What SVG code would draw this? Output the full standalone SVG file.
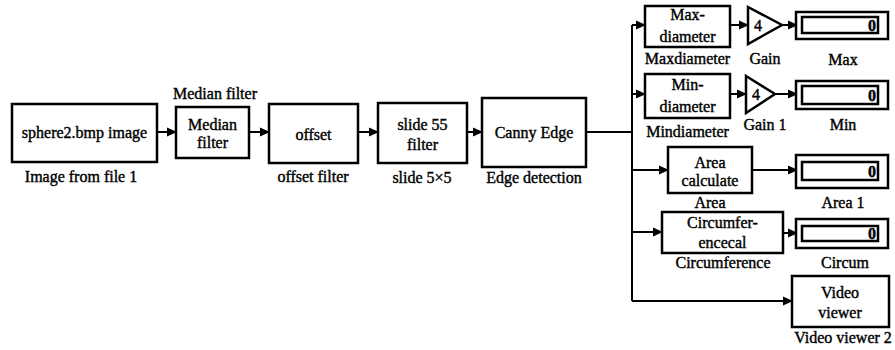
<svg xmlns="http://www.w3.org/2000/svg" width="895" height="350" viewBox="0 0 895 350" font-family="'Liberation Serif', 'Times New Roman', 'DejaVu Serif', serif">
<style>
.box{fill:#fff;stroke:#000;stroke-width:2.5}
.disp{fill:#fff;stroke:#000;stroke-width:2.5}
.ln{fill:none;stroke:#000;stroke-width:2}
text{font-family:'Liberation Serif','Times New Roman','DejaVu Serif',serif;font-size:16px;fill:#000;stroke:#000;stroke-width:0.4;text-anchor:middle}
.num{text-anchor:end;font-weight:bold}
</style>
<defs>
<marker id="ah" markerWidth="10" markerHeight="10" refX="9" refY="5" orient="auto" markerUnits="userSpaceOnUse">
<path d="M0,0.5 L10,5 L0,9.5 Z" fill="#000"/>
</marker>
</defs>
<rect width="895" height="350" fill="#fff"/>
<g id="connectors">
<line class="ln" x1="157" y1="132" x2="176" y2="132" marker-end="url(#ah)"/>
<line class="ln" x1="249" y1="132" x2="269" y2="132" marker-end="url(#ah)"/>
<line class="ln" x1="358" y1="132" x2="378" y2="132" marker-end="url(#ah)"/>
<line class="ln" x1="467" y1="132" x2="482" y2="132" marker-end="url(#ah)"/>
<polyline class="ln" points="586,132 632,132"/>
<line class="ln" x1="632" y1="25" x2="632" y2="301"/>
<line class="ln" x1="632" y1="25" x2="645" y2="25" marker-end="url(#ah)"/>
<line class="ln" x1="632" y1="94" x2="645" y2="94" marker-end="url(#ah)"/>
<line class="ln" x1="632" y1="170" x2="668" y2="170" marker-end="url(#ah)"/>
<line class="ln" x1="632" y1="232" x2="662" y2="232" marker-end="url(#ah)"/>
<line class="ln" x1="632" y1="301" x2="792" y2="301" marker-end="url(#ah)"/>
<line class="ln" x1="730" y1="25" x2="748" y2="25" marker-end="url(#ah)"/>
<line class="ln" x1="782" y1="25" x2="797" y2="25" marker-end="url(#ah)"/>
<line class="ln" x1="730" y1="94" x2="746" y2="94" marker-end="url(#ah)"/>
<line class="ln" x1="775" y1="94" x2="797" y2="94" marker-end="url(#ah)"/>
<line class="ln" x1="752" y1="170" x2="797" y2="170" marker-end="url(#ah)"/>
<line class="ln" x1="783" y1="233" x2="797" y2="233" marker-end="url(#ah)"/>
</g>
<g id="sphere">
<rect class="box" x="12" y="104" width="145" height="58"/>
<text x="84.500" y="138">sphere2.bmp image</text>
<text x="81" y="182">Image from file 1</text>
</g>
<g id="median">
<rect class="box" x="176" y="107" width="73" height="51"/>
<text x="212.500" y="130">Median</text>
<text x="212.500" y="148">filter</text>
<text x="215" y="99">Median filter</text>
</g>
<g id="offset">
<rect class="box" x="269" y="104" width="89" height="59"/>
<text x="313.500" y="140">offset</text>
<text x="313" y="182">offset filter</text>
</g>
<g id="slide">
<rect class="box" x="378" y="103" width="89" height="60"/>
<text x="422.500" y="130">slide 55</text>
<text x="422.500" y="150">filter</text>
<text x="422" y="183">slide 5×5</text>
</g>
<g id="canny">
<rect class="box" x="482" y="98" width="104" height="69"/>
<text x="534" y="138">Canny Edge</text>
<text x="534" y="183">Edge detection</text>
</g>
<g id="maxdiameter">
<rect class="box" x="645" y="6" width="85" height="41"/>
<text x="687.500" y="20">Max-</text>
<text x="687.500" y="42">diameter</text>
<text x="687.500" y="64">Maxdiameter</text>
</g>
<g id="gain">
<polygon class="box" points="748,7 782,25 748,44"/>
<text x="758" y="31">4</text>
<text x="765" y="64">Gain</text>
</g>
<g id="max">
<rect class="disp" x="796" y="12" width="92" height="27"/>
<rect class="disp" x="802" y="17" width="76" height="16"/>
<text class="num" x="876" y="31">0</text>
<text x="843" y="65">Max</text>
</g>
<g id="mindiameter">
<rect class="box" x="645" y="74" width="85" height="44"/>
<text x="687.500" y="90">Min-</text>
<text x="687.500" y="112">diameter</text>
<text x="687.500" y="137">Mindiameter</text>
</g>
<g id="gain1">
<polygon class="box" points="746,76 775,94 746,113"/>
<text x="756" y="100">4</text>
<text x="765" y="130">Gain 1</text>
</g>
<g id="min">
<rect class="disp" x="796" y="81" width="92" height="28"/>
<rect class="disp" x="802" y="86" width="76" height="18"/>
<text class="num" x="876" y="101">0</text>
<text x="843" y="130">Min</text>
</g>
<g id="area">
<rect class="box" x="668" y="147" width="84" height="46"/>
<text x="710" y="168">Area</text>
<text x="710" y="186">calculate</text>
<text x="710" y="208">Area</text>
</g>
<g id="area1">
<rect class="disp" x="796" y="155" width="92" height="33"/>
<rect class="disp" x="802" y="162" width="76" height="18"/>
<text class="num" x="876" y="177">0</text>
<text x="843" y="208">Area 1</text>
</g>
<g id="circumference">
<rect class="box" x="662" y="212" width="121" height="41"/>
<text x="722.500" y="228">Circumfer-</text>
<text x="722.500" y="248">encecal</text>
<text x="723" y="268">Circumference</text>
</g>
<g id="circum">
<rect class="disp" x="796" y="219" width="92" height="29"/>
<rect class="disp" x="802" y="226" width="76" height="15"/>
<text class="num" x="876" y="239">0</text>
<text x="845" y="268">Circum</text>
</g>
<g id="video">
<rect class="box" x="792" y="276" width="97" height="51"/>
<text x="840" y="298">Video</text>
<text x="840" y="318">viewer</text>
<text x="843" y="343">Video viewer 2</text>
</g>
</svg>
